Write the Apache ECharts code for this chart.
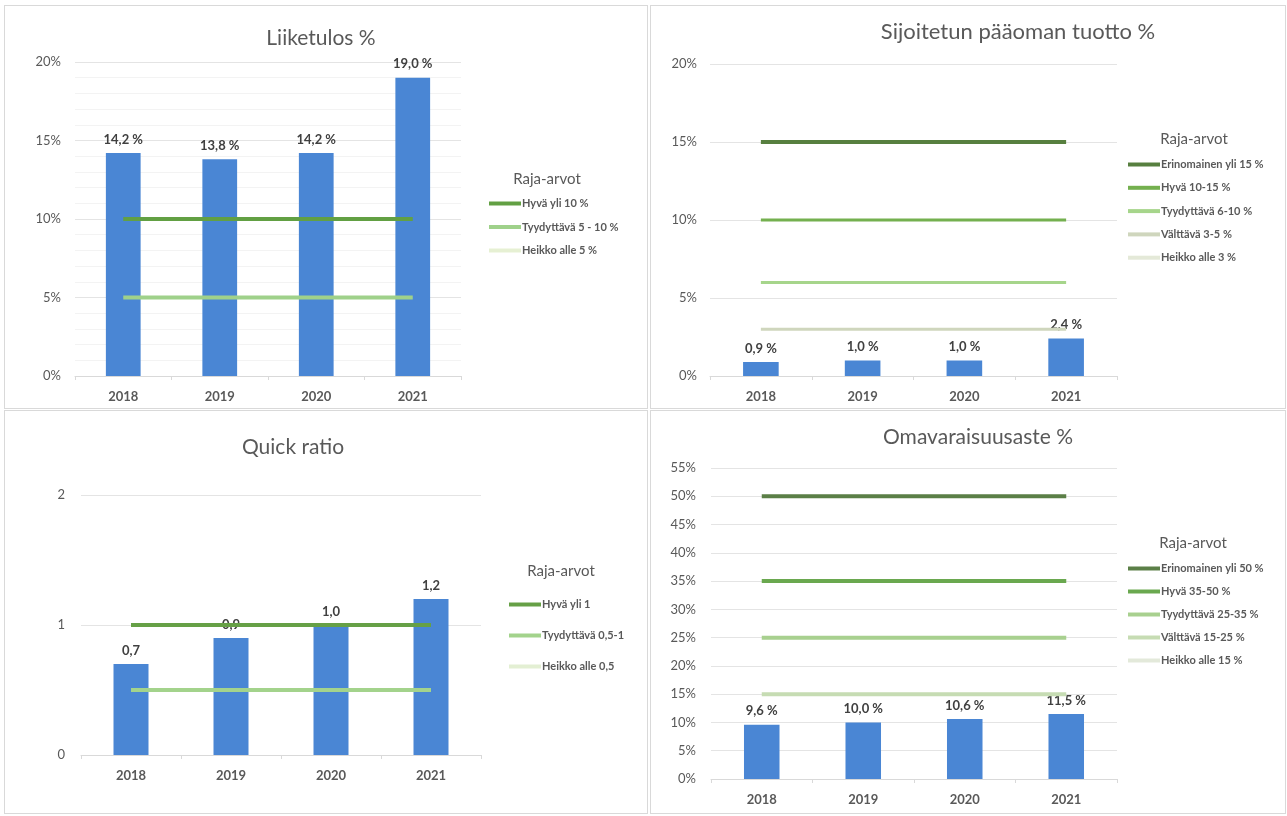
<!DOCTYPE html>
<html>
<head>
<meta charset="utf-8">
<script src="https://cdn.jsdelivr.net/npm/echarts@6/dist/echarts.min.js"></script>
<style>
  html, body { margin: 0; padding: 0; background: #ffffff; }
  body { width: 1287px; height: 816px; position: relative; overflow: hidden; }
  .panel { position: absolute; border: 1px solid #d9d9d9; box-sizing: border-box; background: #fff; }
</style>
</head>
<body>
<div id="p1" class="panel" style="left:4px;top:5px;width:644px;height:404px;"></div>
<div id="p2" class="panel" style="left:650px;top:5px;width:636px;height:404px;"></div>
<div id="p3" class="panel" style="left:4px;top:410px;width:644px;height:404px;"></div>
<div id="p4" class="panel" style="left:650px;top:410px;width:636px;height:404px;"></div>
<script>
// ---------- DATA ----------
const years = ['2018', '2019', '2020', '2021'];

// Liiketulos %
const liiketulos = [14.2, 13.8, 14.2, 19.0];
const p1Names = ['Hyvä yli 10 %', 'Tyydyttävä 5 - 10 %', 'Heikko alle 5 %'];
const p1Hyva = [10, 10, 10, 10];
const p1Tyyd = [5, 5, 5, 5];
const p1Heikko = [0, 0, 0, 0];

// Sijoitetun pääoman tuotto %
const sijoitettu = [0.9, 1.0, 1.0, 2.4];
const p2Names = ['Erinomainen yli 15 %', 'Hyvä 10-15 %', 'Tyydyttävä 6-10 %', 'Välttävä 3-5 %', 'Heikko alle 3 %'];
const p2Erin = [15, 15, 15, 15];
const p2Hyva = [10, 10, 10, 10];
const p2Tyyd = [6, 6, 6, 6];
const p2Valt = [3, 3, 3, 3];
const p2Heikko = [0, 0, 0, 0];

// Quick ratio
const quickRatio = [0.7, 0.9, 1.0, 1.2];
const p3Names = ['Hyvä yli 1', 'Tyydyttävä 0,5-1', 'Heikko alle 0,5'];
const p3Hyva = [1, 1, 1, 1];
const p3Tyyd = [0.5, 0.5, 0.5, 0.5];
const p3Heikko = [0, 0, 0, 0];

// Omavaraisuusaste %
const omavaraisuus = [9.6, 10.0, 10.6, 11.5];
const p4Names = ['Erinomainen yli 50 %', 'Hyvä 35-50 %', 'Tyydyttävä 25-35 %', 'Välttävä 15-25 %', 'Heikko alle 15 %'];
const p4Erin = [50, 50, 50, 50];
const p4Hyva = [35, 35, 35, 35];
const p4Tyyd = [25, 25, 25, 25];
const p4Valt = [15, 15, 15, 15];
const p4Heikko = [0, 0, 0, 0];

// ---------- STYLE ----------
const FONT = 'Lato, "Open Sans", sans-serif';
const TXT = '#595959';
const BAR = '#4a86d4';

function fmtNum(v) { return v.toFixed(1).replace('.', ','); }

function build(cfg) {
  const series = [{
    name: 'value', type: 'bar', data: cfg.values, barWidth: cfg.barWidth, z: 3,
    itemStyle: { color: BAR },
    label: { show: true, position: 'top', distance: 7, fontFamily: FONT, fontSize: 13, fontWeight: 'bold',
      color: '#404040', formatter: p => fmtNum(p.value) + cfg.labelSuffix }
  }];
  cfg.lines.forEach((l, i) => {
    series.push({
      name: cfg.names[i], type: 'line', data: l.data, symbol: 'none', z: l.hidden ? 0 : 10 - i * 0.1,
      lineStyle: { color: l.color, width: l.width, opacity: l.hidden ? 0 : 1 },
      itemStyle: { color: l.color },
      emphasis: { disabled: true }
    });
  });
  return {
    animation: false,
    textStyle: { fontFamily: FONT },
    graphic: [
      { type: 'text', style: { text: cfg.title, x: cfg.titleX, y: cfg.titleY, textAlign: 'center', textVerticalAlign: 'middle',
        fontFamily: FONT, fontSize: cfg.titleSize || 21, fill: TXT } },
      { type: 'text', style: { text: 'Raja-arvot', x: cfg.rajaX, y: cfg.rajaY, textAlign: 'center', textVerticalAlign: 'middle',
        fontFamily: FONT, fontSize: 15, fill: TXT } }
    ],
    legend: {
      orient: 'vertical', left: cfg.legLeft, top: cfg.legTop, padding: 0, itemGap: cfg.legGap,
      icon: 'rect', itemWidth: 32, itemHeight: 4,
      data: cfg.names.map((n, i) => ({ name: n, itemStyle: { color: cfg.lines[i].color, opacity: 1 } })),
      textStyle: { fontFamily: FONT, fontSize: 11, fontWeight: 'bold', color: TXT, padding: [0, 0, 0, -4] },
      selectedMode: false
    },
    grid: cfg.grid,
    xAxis: {
      type: 'category', data: years, boundaryGap: true, z: 5,
      axisLine: { lineStyle: { color: '#d9d9d9' } },
      axisTick: { show: true, length: 4, lineStyle: { color: '#d9d9d9' } },
      axisLabel: { fontFamily: FONT, fontSize: 13, fontWeight: 'bold', color: TXT, margin: 14 }
    },
    yAxis: {
      type: 'value', min: 0, max: cfg.max, interval: cfg.interval,
      axisLine: { show: false }, axisTick: { show: false },
      axisLabel: { fontFamily: FONT, fontSize: 13, color: TXT, margin: cfg.yMargin, formatter: cfg.yFmt },
      splitLine: { lineStyle: { color: '#e4e4e4', width: 1 } },
      minorTick: { show: false, splitNumber: cfg.minor || 5 },
      minorSplitLine: { show: !!cfg.minor, lineStyle: { color: '#f3f3f3' } }
    },
    series
  };
}

const charts = [
  ['p1', build({
    title: 'Liiketulos %', titleX: 316, titleY: 32,
    rajaX: 542, rajaY: 173, legLeft: 484, legTop: 192, legGap: 12.5,
    grid: { left: 70, top: 56, width: 386, height: 314 },
    max: 20, interval: 5, minor: 5, yFmt: '{value}%', barWidth: '36%', labelSuffix: ' %', yMargin: 14,
    values: liiketulos, names: p1Names,
    lines: [
      { data: p1Hyva, color: '#62a043', width: 4 },
      { data: p1Tyyd, color: '#9fd18a', width: 4 },
      { data: p1Heikko, color: '#e6f0d3', width: 4, hidden: true }
    ]
  })],
  ['p2', build({
    title: 'Sijoitetun pääoman tuotto %', titleX: 367, titleY: 26, titleSize: 22,
    rajaX: 543, rajaY: 133, legLeft: 477, legTop: 153, legGap: 12.3,
    grid: { left: 59, top: 58, width: 407, height: 312 },
    max: 20, interval: 5, yFmt: '{value}%', barWidth: '35%', labelSuffix: ' %', yMargin: 13,
    values: sijoitettu, names: p2Names,
    lines: [
      { data: p2Erin, color: '#577f3f', width: 4 },
      { data: p2Hyva, color: '#74b04f', width: 3 },
      { data: p2Tyyd, color: '#a6d58b', width: 3 },
      { data: p2Valt, color: '#cfd6bd', width: 3 },
      { data: p2Heikko, color: '#e4e9d8', width: 3, hidden: true }
    ]
  })],
  ['p3', build({
    title: 'Quick ratio', titleX: 288, titleY: 36,
    rajaX: 556, rajaY: 160, legLeft: 504, legTop: 188, legGap: 20,
    grid: { left: 76, top: 84, width: 400, height: 260 },
    max: 2, interval: 1, yFmt: '{value}', barWidth: '35%', labelSuffix: '', yMargin: 16,
    values: quickRatio, names: p3Names,
    lines: [
      { data: p3Hyva, color: '#66a046', width: 4 },
      { data: p3Tyyd, color: '#a3d38c', width: 4 },
      { data: p3Heikko, color: '#e3efd3', width: 4, hidden: true }
    ]
  })],
  ['p4', build({
    title: 'Omavaraisuusaste %', titleX: 327, titleY: 26,
    rajaX: 542, rajaY: 132, legLeft: 477, legTop: 152, legGap: 12,
    grid: { left: 60, top: 57, width: 406, height: 311 },
    max: 55, interval: 5, yFmt: '{value}%', barWidth: '35%', labelSuffix: ' %', yMargin: 15,
    values: omavaraisuus, names: p4Names,
    lines: [
      { data: p4Erin, color: '#5b7f47', width: 4 },
      { data: p4Hyva, color: '#6aa84f', width: 4 },
      { data: p4Tyyd, color: '#a8d08f', width: 4 },
      { data: p4Valt, color: '#c6dcb3', width: 4 },
      { data: p4Heikko, color: '#e3e9da', width: 4, hidden: true }
    ]
  })]
];

charts.forEach(([id, opt]) => {
  const c = echarts.init(document.getElementById(id), null, { renderer: 'canvas' });
  c.setOption(opt);
});
</script>
</body>
</html>
